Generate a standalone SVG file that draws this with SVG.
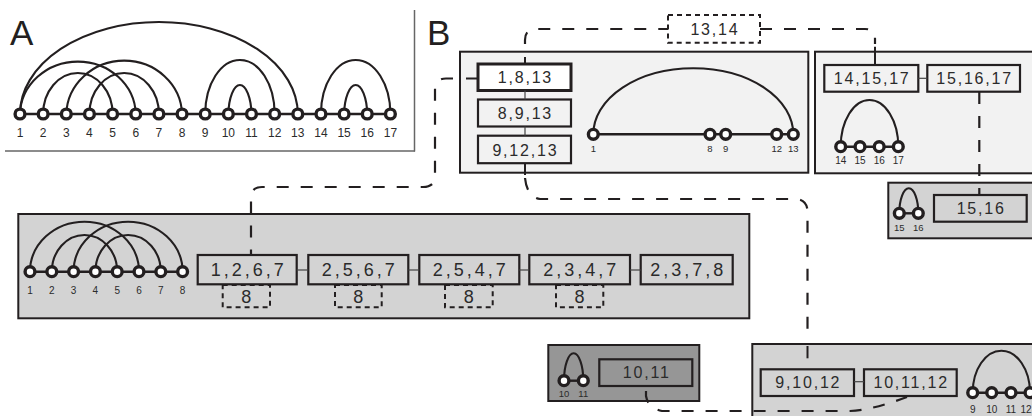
<svg xmlns="http://www.w3.org/2000/svg" width="1032" height="416" viewBox="0 0 1032 416">
<defs>
<style>
text{font-family:"Liberation Sans",Arial,sans-serif;fill:#2b2b2b}
.big{font-size:35px;fill:#231f20}
.pan{stroke:#231f20;stroke-width:2}
.light{fill:#f2f2f2}
.mid{fill:#d3d3d3}
.dark{fill:#969696}
.box{stroke:#231f20;stroke-width:2.2}
.bt{font-size:16px;letter-spacing:1.8px;text-anchor:middle}
.bt2{font-size:18px;letter-spacing:3px;text-anchor:middle}
.nd{fill:#fff;stroke:#231f20;stroke-width:3.4}
.arc{fill:none;stroke:#231f20;stroke-width:2.1}
.bb{stroke:#231f20;stroke-width:2.4}
.lb{text-anchor:middle}
.la{font-size:12px}
.ls{font-size:9.5px}
.lm{font-size:10px}
.dash{fill:none;stroke:#231f20;stroke-width:2.2;stroke-dasharray:12 12}
.dbox{fill:none;stroke:#231f20;stroke-width:2;stroke-dasharray:5 4}
.thin{stroke:#444;stroke-width:1.2}
.stub{stroke:#231f20;stroke-width:2}
</style>
</defs>
<rect width="1032" height="416" fill="#fff"/>

<g id="panelA">
<text class="big" x="10" y="45">A</text>
<line x1="414.5" y1="10" x2="414.5" y2="151.5" stroke="#666" stroke-width="1.5"/>
<line x1="5" y1="151" x2="415" y2="151" stroke="#666" stroke-width="1.5"/>
<line class="bb" x1="20" y1="114" x2="390.4" y2="114"/>
<path class="arc" d="M20 114 A138.9 92 0 0 1 297.8 114"/>
<path class="arc" d="M20 114 A57.9 54 0 0 1 135.75 114"/>
<path class="arc" d="M66.3 114 A57.9 55 0 0 1 182.05 114"/>
<path class="arc" d="M43.15 114 A34.7 41 0 0 1 112.6 114"/>
<path class="arc" d="M89.45 114 A34.7 41 0 0 1 158.9 114"/>
<path class="arc" d="M205.2 114 A34.7 54 0 0 1 274.65 114"/>
<path class="arc" d="M228.35 114 A11.6 31 0 0 1 251.5 114"/>
<path class="arc" d="M320.95 114 A34.7 54 0 0 1 390.4 114"/>
<path class="arc" d="M344.1 114 A11.6 31 0 0 1 367.25 114"/>
<g class="nd">
<circle cx="20" cy="114" r="4.9"/><circle cx="43.15" cy="114" r="4.9"/><circle cx="66.3" cy="114" r="4.9"/><circle cx="89.45" cy="114" r="4.9"/><circle cx="112.6" cy="114" r="4.9"/><circle cx="135.75" cy="114" r="4.9"/><circle cx="158.9" cy="114" r="4.9"/><circle cx="182.05" cy="114" r="4.9"/><circle cx="205.2" cy="114" r="4.9"/><circle cx="228.35" cy="114" r="4.9"/><circle cx="251.5" cy="114" r="4.9"/><circle cx="274.65" cy="114" r="4.9"/><circle cx="297.8" cy="114" r="4.9"/><circle cx="320.95" cy="114" r="4.9"/><circle cx="344.1" cy="114" r="4.9"/><circle cx="367.25" cy="114" r="4.9"/><circle cx="390.4" cy="114" r="4.9"/>
</g>
<g class="lb la">
<text x="20" y="137">1</text><text x="43.15" y="137">2</text><text x="66.3" y="137">3</text><text x="89.45" y="137">4</text><text x="112.6" y="137">5</text><text x="135.75" y="137">6</text><text x="158.9" y="137">7</text><text x="182.05" y="137">8</text><text x="205.2" y="137">9</text><text x="228.35" y="137">10</text><text x="251.5" y="137">11</text><text x="274.65" y="137">12</text><text x="297.8" y="137">13</text><text x="320.95" y="137">14</text><text x="344.1" y="137">15</text><text x="367.25" y="137">16</text><text x="390.4" y="137">17</text>
</g>
</g>

<text class="big" x="427" y="45">B</text>

<g id="panelB1">
<rect class="pan light" x="460" y="51.7" width="348.3" height="121"/>
<line class="bb" x1="593.3" y1="134.3" x2="793.3" y2="134.3"/>
<path class="arc" d="M593.3 134.3 A100 66 0 0 1 793.3 134.3"/>
<g class="nd"><circle cx="593.3" cy="134.3" r="4.9"/><circle cx="710" cy="134.3" r="4.9"/><circle cx="725.7" cy="134.3" r="4.9"/><circle cx="776.7" cy="134.3" r="4.9"/><circle cx="793.3" cy="134.3" r="4.9"/></g>
<g class="lb ls"><text x="593.3" y="152">1</text><text x="710" y="152">8</text><text x="725.7" y="152">9</text><text x="776.7" y="152">12</text><text x="793.3" y="152">13</text></g>
</g>
<g id="bag-1-8-13"><rect x="478" y="64" width="93" height="26.5" fill="#fff" stroke="#231f20" stroke-width="3"/><text class="bt" x="525.4" y="83">1,8,13</text></g>
<g id="bag-8-9-13"><rect class="box light" x="478" y="99.5" width="93" height="27"/><text class="bt" x="525.4" y="119">8,9,13</text></g>
<g id="bag-9-12-13"><rect class="box light" x="478" y="135.7" width="93" height="27.5"/><text class="bt" x="525.4" y="155.5">9,12,13</text></g>

<g id="bag-13-14"><rect class="dbox" x="668" y="15" width="92" height="27.7" fill="#fff"/><text class="bt" x="714.9" y="34.5">13,14</text></g>

<g id="panelB2">
<rect class="pan light" x="815" y="51.7" width="240" height="121.6"/>
<line class="bb" x1="840.7" y1="146.7" x2="898.3" y2="146.7"/>
<path class="arc" d="M840.7 146.7 A28.8 46.7 0 0 1 898.3 146.7"/>
<g class="nd"><circle cx="840.7" cy="146.7" r="4.9"/><circle cx="860" cy="146.7" r="4.9"/><circle cx="879.2" cy="146.7" r="4.9"/><circle cx="898.3" cy="146.7" r="4.9"/></g>
<g class="lb lm"><text x="840.7" y="164">14</text><text x="860" y="164">15</text><text x="879.2" y="164">16</text><text x="898.3" y="164">17</text></g>
</g>
<g id="bag-14-15-17"><rect class="box light" x="824.3" y="65" width="94" height="26.7"/><text class="bt" x="872.2" y="84">14,15,17</text></g>
<g id="bag-15-16-17"><rect class="box light" x="927.3" y="65" width="92.7" height="26.7"/><text class="bt" x="974.6" y="84">15,16,17</text></g>

<g id="panelB3">
<rect class="pan mid" x="888.3" y="182.7" width="160" height="55.6"/>
<line class="bb" x1="899.3" y1="213.3" x2="918.3" y2="213.3"/>
<path class="arc" d="M899.3 213.3 A9.5 25 0 0 1 918.3 213.3"/>
<g class="nd"><circle cx="899.3" cy="213.3" r="4.9"/><circle cx="918.3" cy="213.3" r="4.9"/></g>
<g class="lb ls"><text x="899.3" y="231">15</text><text x="918.3" y="231">16</text></g>
</g>
<g id="bag-15-16"><rect class="box mid" x="934" y="195" width="92.7" height="26.7"/><text class="bt" x="981.2" y="213.5">15,16</text></g>

<g id="panelB4">
<rect class="pan mid" x="18.3" y="214" width="731" height="104.3"/>
<line class="bb" x1="30" y1="271.7" x2="182.6" y2="271.7"/>
<path class="arc" d="M30 271.7 A54.5 50 0 0 1 139 271.7"/>
<path class="arc" d="M73.6 271.7 A54.5 50 0 0 1 182.6 271.7"/>
<path class="arc" d="M51.8 271.7 A32.7 36.7 0 0 1 117.2 271.7"/>
<path class="arc" d="M95.4 271.7 A32.7 36.7 0 0 1 160.8 271.7"/>
<g class="nd"><circle cx="30" cy="271.7" r="4.9"/><circle cx="51.8" cy="271.7" r="4.9"/><circle cx="73.6" cy="271.7" r="4.9"/><circle cx="95.4" cy="271.7" r="4.9"/><circle cx="117.2" cy="271.7" r="4.9"/><circle cx="139" cy="271.7" r="4.9"/><circle cx="160.8" cy="271.7" r="4.9"/><circle cx="182.6" cy="271.7" r="4.9"/></g>
<g class="lb lm"><text x="30" y="294">1</text><text x="51.8" y="294">2</text><text x="73.6" y="294">3</text><text x="95.4" y="294">4</text><text x="117.2" y="294">5</text><text x="139" y="294">6</text><text x="160.8" y="294">7</text><text x="182.6" y="294">8</text></g>
</g>
<g id="sep-1"><rect class="dbox" x="222.7" y="285" width="47.3" height="22.3"/><text class="bt2" x="247.8" y="303">8</text></g>
<g id="sep-2"><rect class="dbox" x="335" y="285" width="46.7" height="22.3"/><text class="bt2" x="359.8" y="303">8</text></g>
<g id="sep-3"><rect class="dbox" x="445" y="285" width="47.7" height="22.3"/><text class="bt2" x="470.3" y="303">8</text></g>
<g id="sep-4"><rect class="dbox" x="556" y="285" width="47.3" height="22.3"/><text class="bt2" x="581.1" y="303">8</text></g>
<g id="bag-1-2-6-7"><rect class="box mid" x="197.7" y="255" width="99" height="29.3"/><text class="bt2" x="248.7" y="276">1,2,6,7</text></g>
<g id="bag-2-5-6-7"><rect class="box mid" x="308.3" y="255" width="100" height="29.3"/><text class="bt2" x="359.8" y="276">2,5,6,7</text></g>
<g id="bag-2-5-4-7"><rect class="box mid" x="419.3" y="255" width="100" height="29.3"/><text class="bt2" x="470.8" y="276">2,5,4,7</text></g>
<g id="bag-2-3-4-7"><rect class="box mid" x="529.3" y="255" width="100.7" height="29.3"/><text class="bt2" x="581.2" y="276">2,3,4,7</text></g>
<g id="bag-2-3-7-8"><rect class="box mid" x="640.7" y="255" width="92" height="29.3"/><text class="bt2" x="688.2" y="276">2,3,7,8</text></g>

<g id="panelB5">
<rect class="pan dark" x="548.3" y="345" width="151" height="56"/>
<line class="bb" x1="564" y1="380.7" x2="583.3" y2="380.7"/>
<path class="arc" d="M564 380.7 A9.65 27.4 0 0 1 583.3 380.7"/>
<g class="nd"><circle cx="564" cy="380.7" r="4.9"/><circle cx="583.3" cy="380.7" r="4.9"/></g>
<g class="lb ls"><text x="564" y="397">10</text><text x="583.3" y="397">11</text></g>
</g>
<g id="bag-10-11"><rect class="box dark" x="599.3" y="359.3" width="93" height="26.7"/><text class="bt" x="646.7" y="378">10,11</text></g>

<g id="panelB6">
<rect class="pan mid" x="752.3" y="344" width="300" height="100"/>
<line class="bb" x1="972.7" y1="392.7" x2="1040" y2="392.7"/>
<path class="arc" d="M972.7 392.7 A28.65 42 0 0 1 1030 392.7"/>
<g class="nd"><circle cx="972.7" cy="392.7" r="4.9"/><circle cx="991.7" cy="392.7" r="4.9"/><circle cx="1011" cy="392.7" r="4.9"/><circle cx="1030" cy="392.7" r="4.9"/></g>
<g class="lb lm"><text x="972.7" y="413">9</text><text x="991.7" y="413">10</text><text x="1011" y="413">11</text><text x="1031.5" y="413" text-anchor="end">12</text></g>
</g>
<g id="bag-9-10-12"><rect class="box mid" x="760.7" y="369.3" width="93.3" height="26.7"/><text class="bt" x="808.3" y="388">9,10,12</text></g>
<g id="bag-10-11-12"><rect class="box mid" x="864" y="369.3" width="92.7" height="26.7"/><text class="bt" x="911.2" y="388">10,11,12</text></g>

<g id="connectors">
<line class="thin" x1="525" y1="90.5" x2="525" y2="99.5"/>
<line class="thin" x1="525" y1="126.5" x2="525" y2="135.7"/>
<line class="thin" x1="918.3" y1="78.3" x2="927.3" y2="78.3"/>
<line class="thin" x1="296.7" y1="270" x2="308.3" y2="270"/>
<line class="thin" x1="408.3" y1="270" x2="419.3" y2="270"/>
<line class="thin" x1="519.3" y1="270" x2="529.3" y2="270"/>
<line class="thin" x1="630" y1="270" x2="640.7" y2="270"/>
<line class="thin" x1="854" y1="381.7" x2="864" y2="381.7"/>
<line class="stub" x1="525" y1="57" x2="525" y2="64"/>
<line class="stub" x1="525" y1="163.2" x2="525" y2="175"/>
<line class="stub" x1="875" y1="46.7" x2="875" y2="65"/>
<line class="stub" x1="466" y1="78.5" x2="478" y2="78.5"/>
<line class="stub" x1="807.5" y1="346" x2="807.5" y2="358.3"/>
<path class="dash" d="M525 44 V40 Q525 29 536 29 H668"/>
<path class="dash" d="M760 29 H865 Q875 29 875 39 V44"/>
<path class="dash" d="M453 78.5 H446 Q435 78.5 435 90 V176 Q435 187 423 187 H262 Q251 187 251 198 V255"/>
<path class="dash" d="M525 178 Q527 197 540 199 H796 Q807.5 200 807.5 212 V336"/>
<path class="dash" d="M979.3 92 V195"/>
<path class="dash" d="M646 391 V396 Q648 408 662 411 H850 Q872 410 907 397"/>
</g>
</svg>
